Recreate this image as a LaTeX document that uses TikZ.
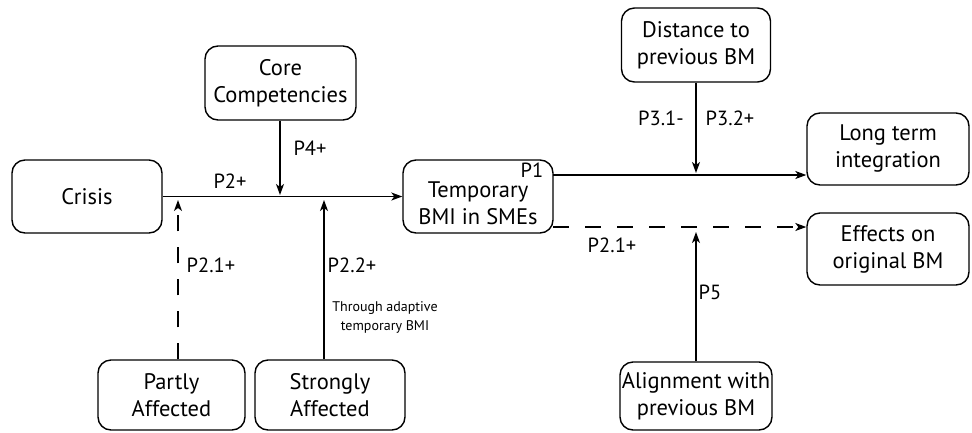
\documentclass[tikz,border=0pt]{standalone}
\usepackage{fontspec}
\setmainfont{PT Sans}
\usetikzlibrary{arrows.meta}
\begin{document}
\begin{tikzpicture}[x=1pt,y=-1pt,
  box/.style={draw, line width=1.4pt, rounded corners=13pt, align=center, inner sep=0pt,
    font=\fontsize{22.5}{27}\selectfont},
  boxtext/.style={align=center, inner sep=0pt, font=\fontsize{22.5}{27}\selectfont},
  lbl/.style={font=\fontsize{20.5}{24}\selectfont, inner sep=0pt},
  small/.style={font=\fontsize{14}{19}\selectfont, inner sep=0pt, align=center},
  conn/.style={line width=1.3pt, -{Stealth[length=11pt,width=8pt,inset=3pt]}},
  dconn/.style={conn, dash pattern=on 16pt off 16pt}
]
\useasboundingbox (0,0) rectangle (972,432);
\fill[white] (0,0) rectangle (972,432);

\node[box, minimum width=150pt, minimum height=73pt] (crisis) at (87,196.5) {Crisis};
\node[box, minimum width=151pt, minimum height=74pt] (core) at (280.5,83) {Core\\Competencies};
\node[box, minimum width=150pt, minimum height=73pt] (temp) at (478,196.5) {};
\node[boxtext] (temptext) at ([yshift=-7pt]temp.center) {Temporary\\BMI in SMEs};
\node[box, minimum width=149pt, minimum height=74pt] (dist) at (696,45) {Distance to\\previous BM};
\node[box, minimum width=162pt, minimum height=72pt] (long) at (888,149) {Long term\\integration};
\node[box, minimum width=162pt, minimum height=72pt] (eff) at (888,249) {Effects on\\original BM};
\node[box, minimum width=147pt, minimum height=70pt] (partly) at (171.5,395) {Partly\\Affected};
\node[box, minimum width=150pt, minimum height=70pt] (strong) at (330,395) {Strongly\\Affected};
\node[box, minimum width=152pt, minimum height=68pt] (align) at (696,396) {Alignment with\\previous BM};

\coordinate (c4) at (280,195);
\coordinate (c21) at (178,200);
\coordinate (c22) at (324,200);
\coordinate (t1) at (553,175);
\coordinate (t2) at (553,227);
\coordinate (c3) at (696,173);
\coordinate (c5) at (696,232);

\draw[conn] (crisis.east) -- (temp.west);
\draw[conn] (core.south -| c4) -- (c4);
\draw[dconn] (partly.north -| c21) -- (c21);
\draw[conn] (strong.north -| c22) -- (c22);
\draw[conn] (t1) -- (t1 -| long.west);
\draw[dconn] (t2) -- (t2 -| eff.west);
\draw[conn] (dist.south) -- (c3);
\draw[conn] (align.north) -- (c5);

\node[lbl] (lp2) at (230,181) {P2+};
\node[lbl] (lp4) at (310,148) {P4+};
\node[lbl] (lp21a) at (211,265) {P2.1+};
\node[lbl] (lp22) at (352,265) {P2.2+};
\node[small] (lthr) at (385,317) {Through adaptive\\temporary BMI};
\node[lbl] (lp1) at (532,170) {P1};
\node[lbl] (lp31) at (661,118) {P3.1-};
\node[lbl] (lp32) at (730,118) {P3.2+};
\node[lbl] (lp21b) at (612,245) {P2.1+};
\node[lbl] (lp5) at (710,292) {P5};
\end{tikzpicture}
\end{document}
